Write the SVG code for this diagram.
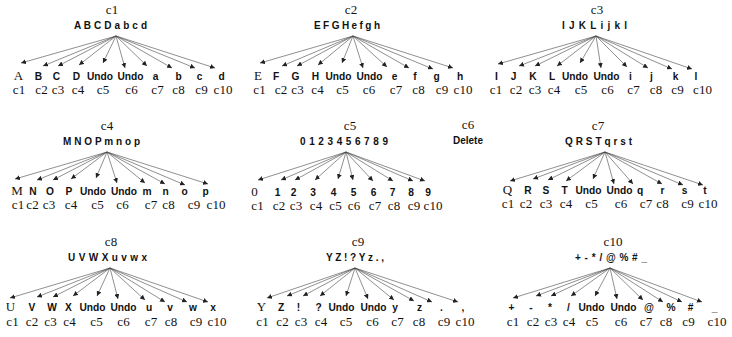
<svg xmlns="http://www.w3.org/2000/svg" width="732" height="337" viewBox="0 0 732 337">
<style>
  text { fill: #111; text-anchor: middle; }
  .t { font-family: "Liberation Serif", "Times New Roman", serif; font-size: 13px; }
  .s { font-family: "Liberation Sans", Arial, sans-serif; font-size: 10px; font-weight: bold; }
  .l { font-family: "Liberation Sans", Arial, sans-serif; font-size: 10.2px; font-weight: bold; }
  .ls { font-family: "Liberation Serif", "Times New Roman", serif; font-size: 13px; }
  .n { font-family: "Liberation Serif", "Times New Roman", serif; font-size: 13px; }
  .e line { stroke: #444; stroke-width: 0.6; fill: none; marker-end: url(#ah); }
</style>
<defs>
  <marker id="ah" markerWidth="6" markerHeight="5" refX="5" refY="2.5" orient="auto" markerUnits="userSpaceOnUse">
    <path d="M0,0 L5,2.5 L0,5 Z" fill="#222"/>
  </marker>
</defs>

<!-- c1 -->
<g id="c1">
  <g id="c1-root"><text class="t" x="112" y="14">c1</text><text class="s" x="110.5" y="29" textLength="73" lengthAdjust="spacing">A B C D a b c d</text></g>
  <g id="c1-n1"><text class="ls" x="18.5" y="80">A</text><text class="n" x="19" y="94">c1</text></g>
  <g id="c1-n2"><text class="l" x="38.5" y="80">B</text><text class="n" x="41.5" y="94">c2</text></g>
  <g id="c1-n3"><text class="l" x="56.5" y="80">C</text><text class="n" x="58" y="94">c3</text></g>
  <g id="c1-n4"><text class="l" x="76.5" y="80">D</text><text class="n" x="78" y="94">c4</text></g>
  <g id="c1-n5"><text class="l" x="100" y="80">Undo</text><text class="n" x="103" y="94">c5</text></g>
  <g id="c1-n6"><text class="l" x="130.5" y="80">Undo</text><text class="n" x="131.5" y="94">c6</text></g>
  <g id="c1-n7"><text class="l" x="155.5" y="80">a</text><text class="n" x="157.5" y="94">c7</text></g>
  <g id="c1-n8"><text class="l" x="178.5" y="80">b</text><text class="n" x="178.5" y="94">c8</text></g>
  <g id="c1-n9"><text class="l" x="199.5" y="80">c</text><text class="n" x="201.5" y="94">c9</text></g>
  <g id="c1-n10"><text class="l" x="221.5" y="80">d</text><text class="n" x="223" y="94">c10</text></g>
</g>

<!-- c2 -->
<g id="c2">
  <g id="c2-root"><text class="t" x="351" y="14">c2</text><text class="s" x="347" y="29" textLength="66" lengthAdjust="spacing">E F G H e f g h</text></g>
  <g id="c2-n1"><text class="ls" x="258" y="80">E</text><text class="n" x="259.5" y="94">c1</text></g>
  <g id="c2-n2"><text class="l" x="276" y="80">F</text><text class="n" x="281" y="94">c2</text></g>
  <g id="c2-n3"><text class="l" x="295.5" y="80">G</text><text class="n" x="297.5" y="94">c3</text></g>
  <g id="c2-n4"><text class="l" x="315.5" y="80">H</text><text class="n" x="317.5" y="94">c4</text></g>
  <g id="c2-n5"><text class="l" x="338.5" y="80">Undo</text><text class="n" x="342.5" y="94">c5</text></g>
  <g id="c2-n6"><text class="l" x="369.5" y="80">Undo</text><text class="n" x="369" y="94">c6</text></g>
  <g id="c2-n7"><text class="l" x="394.5" y="80">e</text><text class="n" x="396" y="94">c7</text></g>
  <g id="c2-n8"><text class="l" x="415" y="80">f</text><text class="n" x="418.5" y="94">c8</text></g>
  <g id="c2-n9"><text class="l" x="436.5" y="80">g</text><text class="n" x="442" y="94">c9</text></g>
  <g id="c2-n10"><text class="l" x="460" y="80">h</text><text class="n" x="463" y="94">c10</text></g>
</g>

<!-- c3 -->
<g id="c3">
  <g id="c3-root"><text class="t" x="597" y="14">c3</text><text class="s" x="594.5" y="29" textLength="65" lengthAdjust="spacing">I J K L i j k l</text></g>
  <g id="c3-n1"><text class="l" x="496.5" y="80">I</text><text class="n" x="496" y="94">c1</text></g>
  <g id="c3-n2"><text class="l" x="513.5" y="80">J</text><text class="n" x="516" y="94">c2</text></g>
  <g id="c3-n3"><text class="l" x="533" y="80">K</text><text class="n" x="535" y="94">c3</text></g>
  <g id="c3-n4"><text class="l" x="552" y="80">L</text><text class="n" x="554" y="94">c4</text></g>
  <g id="c3-n5"><text class="l" x="575" y="80">Undo</text><text class="n" x="581" y="94">c5</text></g>
  <g id="c3-n6"><text class="l" x="606.5" y="80">Undo</text><text class="n" x="607.5" y="94">c6</text></g>
  <g id="c3-n7"><text class="l" x="630.5" y="80">i</text><text class="n" x="633.5" y="94">c7</text></g>
  <g id="c3-n8"><text class="l" x="651.5" y="80">j</text><text class="n" x="656" y="94">c8</text></g>
  <g id="c3-n9"><text class="l" x="675.5" y="80">k</text><text class="n" x="677.5" y="94">c9</text></g>
  <g id="c3-n10"><text class="l" x="696" y="80">l</text><text class="n" x="702.5" y="94">c10</text></g>
</g>

<!-- c4 -->
<g id="c4">
  <g id="c4-root"><text class="t" x="107" y="130">c4</text><text class="s" x="101.5" y="145" textLength="77" lengthAdjust="spacing">M N O P m n o p</text></g>
  <g id="c4-n1"><text class="ls" x="17" y="195">M</text><text class="n" x="18" y="209">c1</text></g>
  <g id="c4-n2"><text class="l" x="33" y="195">N</text><text class="n" x="32.5" y="209">c2</text></g>
  <g id="c4-n3"><text class="l" x="50" y="195">O</text><text class="n" x="49" y="209">c3</text></g>
  <g id="c4-n4"><text class="l" x="69" y="195">P</text><text class="n" x="71" y="209">c4</text></g>
  <g id="c4-n5"><text class="l" x="93" y="195">Undo</text><text class="n" x="97.5" y="209">c5</text></g>
  <g id="c4-n6"><text class="l" x="124" y="195">Undo</text><text class="n" x="122.5" y="209">c6</text></g>
  <g id="c4-n7"><text class="l" x="147" y="195">m</text><text class="n" x="151" y="209">c7</text></g>
  <g id="c4-n8"><text class="l" x="165.5" y="195">n</text><text class="n" x="168.5" y="209">c8</text></g>
  <g id="c4-n9"><text class="l" x="184.5" y="195">o</text><text class="n" x="194" y="209">c9</text></g>
  <g id="c4-n10"><text class="l" x="205.5" y="195">p</text><text class="n" x="216" y="209">c10</text></g>
</g>

<!-- c5 -->
<g id="c5">
  <g id="c5-root"><text class="t" x="350" y="130">c5</text><text class="s" x="344" y="145" textLength="88" lengthAdjust="spacing">0 1 2 3 4 5 6 7 8 9</text></g>
  <g id="c5-n1"><text class="ls" x="254.5" y="196">0</text><text class="n" x="257.5" y="210">c1</text></g>
  <g id="c5-n2"><text class="l" x="277.5" y="196">1</text><text class="n" x="279" y="210">c2</text></g>
  <g id="c5-n3"><text class="l" x="293.5" y="196">2</text><text class="n" x="296" y="210">c3</text></g>
  <g id="c5-n4"><text class="l" x="313" y="196">3</text><text class="n" x="316" y="210">c4</text></g>
  <g id="c5-n5"><text class="l" x="333.5" y="196">4</text><text class="n" x="335.5" y="210">c5</text></g>
  <g id="c5-n6"><text class="l" x="353.5" y="196">5</text><text class="n" x="354" y="210">c6</text></g>
  <g id="c5-n7"><text class="l" x="373.5" y="196">6</text><text class="n" x="375" y="210">c7</text></g>
  <g id="c5-n8"><text class="l" x="392.5" y="196">7</text><text class="n" x="394" y="210">c8</text></g>
  <g id="c5-n9"><text class="l" x="411" y="196">8</text><text class="n" x="414" y="210">c9</text></g>
  <g id="c5-n10"><text class="l" x="428" y="196">9</text><text class="n" x="433" y="210">c10</text></g>
</g>

<!-- c6 -->
<g id="c6">
  <text class="t" x="468" y="129">c6</text>
  <text class="s" x="468" y="144">Delete</text>
</g>

<!-- c7 -->
<g id="c7">
  <g id="c7-root"><text class="t" x="598" y="130">c7</text><text class="s" x="598.5" y="145" textLength="67" lengthAdjust="spacing">Q R S T q r s t</text></g>
  <g id="c7-n1"><text class="ls" x="507.5" y="194">Q</text><text class="n" x="508" y="208">c1</text></g>
  <g id="c7-n2"><text class="l" x="528" y="194">R</text><text class="n" x="526" y="208">c2</text></g>
  <g id="c7-n3"><text class="l" x="546" y="194">S</text><text class="n" x="546" y="208">c3</text></g>
  <g id="c7-n4"><text class="l" x="564.5" y="194">T</text><text class="n" x="566" y="208">c4</text></g>
  <g id="c7-n5"><text class="l" x="588.5" y="194">Undo</text><text class="n" x="591.5" y="208">c5</text></g>
  <g id="c7-n6"><text class="l" x="619.5" y="194">Undo</text><text class="n" x="621" y="208">c6</text></g>
  <g id="c7-n7"><text class="l" x="640" y="194">q</text><text class="n" x="646" y="208">c7</text></g>
  <g id="c7-n8"><text class="l" x="662.5" y="194">r</text><text class="n" x="662.5" y="208">c8</text></g>
  <g id="c7-n9"><text class="l" x="684.5" y="194">s</text><text class="n" x="687.5" y="208">c9</text></g>
  <g id="c7-n10"><text class="l" x="705" y="194">t</text><text class="n" x="708" y="208">c10</text></g>
</g>

<!-- c8 -->
<g id="c8">
  <g id="c8-root"><text class="t" x="111" y="246">c8</text><text class="s" x="107.5" y="261" textLength="79" lengthAdjust="spacing">U V W X u v w x</text></g>
  <g id="c8-n1"><text class="ls" x="10.5" y="311">U</text><text class="n" x="12.5" y="326">c1</text></g>
  <g id="c8-n2"><text class="l" x="32" y="311">V</text><text class="n" x="32" y="326">c2</text></g>
  <g id="c8-n3"><text class="l" x="52" y="311">W</text><text class="n" x="50.5" y="326">c3</text></g>
  <g id="c8-n4"><text class="l" x="68.5" y="311">X</text><text class="n" x="69.5" y="326">c4</text></g>
  <g id="c8-n5"><text class="l" x="92.5" y="311">Undo</text><text class="n" x="96.5" y="326">c5</text></g>
  <g id="c8-n6"><text class="l" x="123.5" y="311">Undo</text><text class="n" x="123.5" y="326">c6</text></g>
  <g id="c8-n7"><text class="l" x="149" y="311">u</text><text class="n" x="151" y="326">c7</text></g>
  <g id="c8-n8"><text class="l" x="170" y="311">v</text><text class="n" x="171" y="326">c8</text></g>
  <g id="c8-n9"><text class="l" x="193" y="311">w</text><text class="n" x="196" y="326">c9</text></g>
  <g id="c8-n10"><text class="l" x="213" y="311">x</text><text class="n" x="217" y="326">c10</text></g>
</g>

<!-- c9 -->
<g id="c9">
  <g id="c9-root"><text class="t" x="358" y="246">c9</text><text class="s" x="355" y="261" textLength="58" lengthAdjust="spacing">Y Z ! ? Y z . ,</text></g>
  <g id="c9-n1"><text class="ls" x="261.5" y="311">Y</text><text class="n" x="262.5" y="326">c1</text></g>
  <g id="c9-n2"><text class="l" x="281" y="311">Z</text><text class="n" x="282.5" y="326">c2</text></g>
  <g id="c9-n3"><text class="l" x="298.5" y="311">!</text><text class="n" x="301" y="326">c3</text></g>
  <g id="c9-n4"><text class="l" x="318.5" y="311">?</text><text class="n" x="321" y="326">c4</text></g>
  <g id="c9-n5"><text class="l" x="341.5" y="311">Undo</text><text class="n" x="346" y="326">c5</text></g>
  <g id="c9-n6"><text class="l" x="373.5" y="311">Undo</text><text class="n" x="372.5" y="326">c6</text></g>
  <g id="c9-n7"><text class="l" x="395" y="311">y</text><text class="n" x="397.5" y="326">c7</text></g>
  <g id="c9-n8"><text class="l" x="419.5" y="311">z</text><text class="n" x="419" y="326">c8</text></g>
  <g id="c9-n9"><text class="l" x="441.5" y="311">.</text><text class="n" x="444" y="326">c9</text></g>
  <g id="c9-n10"><text class="l" x="463" y="311">,</text><text class="n" x="465" y="326">c10</text></g>
</g>

<!-- c10 -->
<g id="c10">
  <g id="c10-root"><text class="t" x="613" y="246">c10</text><text class="s" x="611" y="261" textLength="72" lengthAdjust="spacing">+ - * / @ % # _</text></g>
  <g id="c10-n1"><text class="l" x="511.5" y="311">+</text><text class="n" x="513" y="326">c1</text></g>
  <g id="c10-n2"><text class="l" x="531" y="311">-</text><text class="n" x="533" y="326">c2</text></g>
  <g id="c10-n3"><text class="l" x="550" y="311">*</text><text class="n" x="551" y="326">c3</text></g>
  <g id="c10-n4"><text class="l" x="568.5" y="311">/</text><text class="n" x="569" y="326">c4</text></g>
  <g id="c10-n5"><text class="l" x="591.5" y="311">Undo</text><text class="n" x="592" y="326">c5</text></g>
  <g id="c10-n6"><text class="l" x="623.5" y="311">Undo</text><text class="n" x="621" y="326">c6</text></g>
  <g id="c10-n7"><text class="l" x="649" y="311">@</text><text class="n" x="646" y="326">c7</text></g>
  <g id="c10-n8"><text class="l" x="671" y="311">%</text><text class="n" x="666" y="326">c8</text></g>
  <g id="c10-n9"><text class="l" x="690.5" y="311">#</text><text class="n" x="688.5" y="326">c9</text></g>
  <g id="c10-n10"><text class="l" x="714.5" y="311">_</text><text class="n" x="717" y="326">c10</text></g>
</g>

<!-- connectors: each root fans out to its ten children -->
<g id="connectors" class="e">
  <line x1="116" y1="36" x2="21" y2="63"/><line x1="116" y1="36" x2="43" y2="66"/><line x1="116" y1="36" x2="58" y2="66"/><line x1="116" y1="36" x2="79" y2="65"/><line x1="116" y1="36" x2="103" y2="63"/>
  <line x1="116" y1="36" x2="125" y2="68"/><line x1="116" y1="36" x2="147" y2="66"/><line x1="116" y1="36" x2="172" y2="68"/><line x1="116" y1="36" x2="195" y2="68"/><line x1="116" y1="36" x2="215" y2="68"/>

  <line x1="353" y1="36" x2="260" y2="63"/><line x1="353" y1="36" x2="282" y2="66"/><line x1="353" y1="36" x2="297" y2="66"/><line x1="353" y1="36" x2="318" y2="65"/><line x1="353" y1="36" x2="342" y2="63"/>
  <line x1="353" y1="36" x2="363" y2="68"/><line x1="353" y1="36" x2="387" y2="67"/><line x1="353" y1="36" x2="409" y2="68"/><line x1="353" y1="36" x2="433" y2="69"/><line x1="353" y1="36" x2="453" y2="68"/>

  <line x1="596" y1="36" x2="498" y2="64"/><line x1="596" y1="36" x2="519" y2="66"/><line x1="596" y1="36" x2="535" y2="66"/><line x1="596" y1="36" x2="557" y2="66"/><line x1="596" y1="36" x2="580" y2="63"/>
  <line x1="596" y1="36" x2="601" y2="68"/><line x1="596" y1="36" x2="627" y2="67"/><line x1="596" y1="36" x2="648" y2="68"/><line x1="596" y1="36" x2="672" y2="69"/><line x1="596" y1="36" x2="692" y2="69"/>

  <line x1="107" y1="152" x2="15" y2="179"/><line x1="107" y1="152" x2="37" y2="180"/><line x1="107" y1="152" x2="53" y2="180"/><line x1="107" y1="152" x2="71" y2="179"/><line x1="107" y1="152" x2="96" y2="178"/>
  <line x1="107" y1="152" x2="117" y2="183"/><line x1="107" y1="152" x2="145" y2="183"/><line x1="107" y1="152" x2="165" y2="184"/><line x1="107" y1="152" x2="185" y2="185"/><line x1="107" y1="152" x2="208" y2="184"/>

  <line x1="346" y1="152" x2="258" y2="180"/><line x1="346" y1="152" x2="281" y2="180"/><line x1="346" y1="152" x2="295" y2="180"/><line x1="346" y1="152" x2="315" y2="180"/><line x1="346" y1="152" x2="338" y2="179"/>
  <line x1="346" y1="152" x2="353" y2="180"/><line x1="346" y1="152" x2="373" y2="181"/><line x1="346" y1="152" x2="393" y2="181"/><line x1="346" y1="152" x2="413" y2="181"/><line x1="346" y1="152" x2="425" y2="181"/>

  <line x1="605" y1="152" x2="510" y2="181"/><line x1="605" y1="152" x2="533" y2="179"/><line x1="605" y1="152" x2="548" y2="180"/><line x1="605" y1="152" x2="566" y2="181"/><line x1="605" y1="152" x2="593" y2="179"/>
  <line x1="605" y1="152" x2="614" y2="184"/><line x1="605" y1="152" x2="633" y2="184"/><line x1="605" y1="152" x2="662" y2="184"/><line x1="605" y1="152" x2="683" y2="185"/><line x1="605" y1="152" x2="703" y2="185"/>

  <line x1="110" y1="268" x2="10" y2="298"/><line x1="110" y1="268" x2="37" y2="297"/><line x1="110" y1="268" x2="53" y2="297"/><line x1="110" y1="268" x2="73" y2="296"/><line x1="110" y1="268" x2="97" y2="296"/>
  <line x1="110" y1="268" x2="118" y2="299"/><line x1="110" y1="268" x2="145" y2="300"/><line x1="110" y1="268" x2="165" y2="302"/><line x1="110" y1="268" x2="187" y2="302"/><line x1="110" y1="268" x2="208" y2="302"/>

  <line x1="355" y1="268" x2="267" y2="298"/><line x1="355" y1="268" x2="287" y2="296"/><line x1="355" y1="268" x2="303" y2="296"/><line x1="355" y1="268" x2="320" y2="296"/><line x1="355" y1="268" x2="346" y2="296"/>
  <line x1="355" y1="268" x2="368" y2="299"/><line x1="355" y1="268" x2="394" y2="300"/><line x1="355" y1="268" x2="414" y2="301"/><line x1="355" y1="268" x2="432" y2="302"/><line x1="355" y1="268" x2="458" y2="302"/>

  <line x1="610" y1="268" x2="513" y2="298"/><line x1="610" y1="268" x2="536" y2="296"/><line x1="610" y1="268" x2="551" y2="296"/><line x1="610" y1="268" x2="571" y2="296"/><line x1="610" y1="268" x2="595" y2="296"/>
  <line x1="610" y1="268" x2="617" y2="299"/><line x1="610" y1="268" x2="643" y2="300"/><line x1="610" y1="268" x2="663" y2="302"/><line x1="610" y1="268" x2="682" y2="302"/><line x1="610" y1="268" x2="702" y2="302"/>
</g>
</svg>
